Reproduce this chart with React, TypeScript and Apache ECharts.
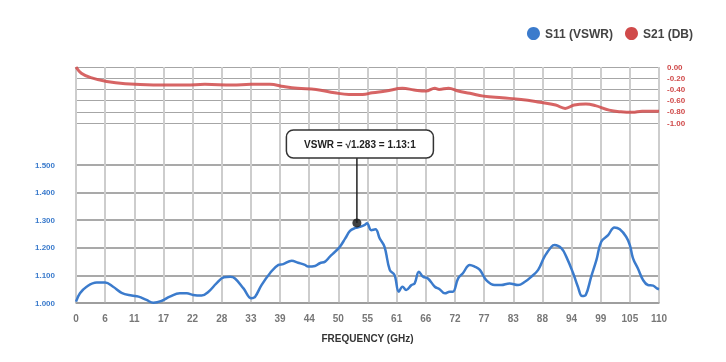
import React, { useEffect, useRef } from "react";
import * as echarts from "echarts";

const FREQ_MIN = 0;
const FREQ_MAX = 110;
const FREQ_STEP = 5.5;

const s11Freq = [0, 0.75, 2.0, 3.9, 5.5, 7.0, 8.6, 10.5, 11.8, 13.3, 14.6, 16.2, 17.7, 19.6, 20.9, 22.1, 23.7, 25.0, 26.5, 27.9, 29.1, 30.0, 31.6, 33.1, 33.8, 35.0, 36.6, 38.2, 39.1, 40.7, 41.9, 43.2, 43.8, 45.1, 46.0, 47.0, 47.9, 48.9, 49.8, 50.8, 51.7, 52.6, 53.6, 54.5, 54.9, 55.7, 56.5, 57.3, 58.2, 59.2, 60.1, 60.9, 61.6, 62.3, 63.3, 63.9, 64.7, 65.5, 66.4, 67.7, 68.6, 69.6, 70.5, 71.1, 72.1, 73.0, 74.3, 75.2, 76.2, 77.4, 79.0, 80.2, 81.8, 83.4, 84.7, 85.9, 87.2, 88.4, 89.7, 90.3, 91.6, 92.5, 93.8, 94.7, 95.5, 96.2, 97.2, 98.2, 99.1, 100.4, 101.6, 102.6, 103.8, 104.5, 105.1, 106.0, 107.0, 107.9, 108.9, 109.6, 110];
const s11Vswr = [1.005, 1.035, 1.059, 1.074, 1.074, 1.059, 1.037, 1.027, 1.023, 1.011, 1.001, 1.008, 1.023, 1.035, 1.035, 1.029, 1.027, 1.041, 1.071, 1.093, 1.095, 1.089, 1.053, 1.017, 1.023, 1.065, 1.108, 1.138, 1.141, 1.153, 1.146, 1.138, 1.132, 1.134, 1.144, 1.150, 1.168, 1.186, 1.204, 1.234, 1.261, 1.271, 1.276, 1.283, 1.289, 1.264, 1.267, 1.234, 1.204, 1.120, 1.101, 1.041, 1.059, 1.047, 1.065, 1.071, 1.113, 1.095, 1.089, 1.059, 1.050, 1.035, 1.041, 1.041, 1.089, 1.108, 1.138, 1.132, 1.120, 1.083, 1.065, 1.065, 1.071, 1.065, 1.077, 1.095, 1.120, 1.168, 1.204, 1.210, 1.198, 1.168, 1.108, 1.059, 1.025, 1.030, 1.095, 1.156, 1.222, 1.246, 1.274, 1.267, 1.240, 1.210, 1.162, 1.126, 1.083, 1.065, 1.063, 1.053, 1.050];

const s21Freq = [0, 1.0, 2.8, 5.8, 9.3, 14.6, 20.8, 24.3, 29.5, 33.0, 36.6, 39.2, 41.8, 45.3, 48.8, 51.5, 54.1, 55.9, 58.5, 61.6, 63.8, 66.0, 67.7, 68.5, 70.3, 72.1, 74.3, 76.9, 80.4, 84.0, 87.5, 90.5, 92.3, 94.0, 96.2, 98.0, 100.6, 102.8, 105.0, 106.8, 110];
const s21Db = [0.0, -0.11, -0.19, -0.26, -0.30, -0.32, -0.32, -0.31, -0.32, -0.31, -0.31, -0.35, -0.38, -0.40, -0.46, -0.49, -0.49, -0.46, -0.43, -0.38, -0.41, -0.43, -0.38, -0.40, -0.38, -0.43, -0.47, -0.52, -0.55, -0.58, -0.63, -0.68, -0.74, -0.68, -0.66, -0.69, -0.77, -0.80, -0.81, -0.79, -0.79];

const annotFreq = 53.0;
const annotVswr = 1.29;
const annotText = "VSWR = \u221A1.283 = 1.13:1";

const BLUE = "#3b7bcc";
const RED = "#d04a4a";
const FONT = "'Liberation Sans', Arial, sans-serif";

export default function App() {
  const ref = useRef<HTMLDivElement>(null);
  useEffect(() => {
    if (!ref.current) return;
    const chart = echarts.init(ref.current, null, { renderer: "svg" });
    const vSplit = { show: true, lineStyle: { color: "#cdcdcd", width: 2 } };
    const xBase = (show: boolean) => ({
      type: "value" as const,
      min: FREQ_MIN,
      max: FREQ_MAX,
      interval: FREQ_STEP,
      splitLine: vSplit,
      axisTick: { show: false },
    });
    const option: any = {
      animation: false,
      textStyle: { fontFamily: FONT },
      legend: {
        right: 28,
        top: 22,
        itemGap: 12,
        icon: "circle",
        itemWidth: 13,
        itemHeight: 13,
        data: ["S11 (VSWR)", "S21 (DB)"],
        textStyle: { color: "#444", fontWeight: "bold", fontSize: 12, fontFamily: FONT },
      },
      grid: [
        { left: 76, top: 67, width: 583, height: 56 },
        { left: 76, top: 123, width: 583, height: 42 },
        { left: 76, top: 165, width: 583, height: 138 },
      ],
      xAxis: [
        { ...xBase(false), gridIndex: 0, axisLabel: { show: false }, axisLine: { show: false } },
        { ...xBase(false), gridIndex: 1, axisLabel: { show: false }, axisLine: { show: false } },
        {
          ...xBase(true),
          gridIndex: 2,
          name: "FREQUENCY (GHz)",
          nameLocation: "middle",
          nameGap: 30,
          nameTextStyle: { color: "#333", fontWeight: "bold", fontSize: 10, fontFamily: FONT },
          axisLine: { show: true, lineStyle: { color: "#9a9a9a", width: 1.5 } },
          axisLabel: {
            color: "#777",
            fontSize: 10,
            fontWeight: "bold",
            margin: 10,
            formatter: (v: number) => String(Math.round(v)),
          },
        },
      ],
      yAxis: [
        {
          type: "value",
          gridIndex: 0,
          position: "right",
          min: -1,
          max: 0,
          interval: 0.2,
          axisLine: { show: false },
          axisTick: { show: false },
          splitLine: { show: true, lineStyle: { color: "#a6a6a6", width: 1.2 } },
          axisLabel: {
            color: RED,
            fontSize: 8,
            fontWeight: "bold",
            margin: 8,
            formatter: (v: number) => v.toFixed(2),
          },
        },
        { type: "value", gridIndex: 1, show: false, min: 0, max: 1, splitLine: { show: false } },
        {
          type: "value",
          gridIndex: 2,
          min: 1.0,
          max: 1.5,
          interval: 0.1,
          axisLine: { show: false },
          axisTick: { show: false },
          splitLine: { show: true, lineStyle: { color: "#8c8c8c", width: 1.6 } },
          axisLabel: {
            color: BLUE,
            fontSize: 8,
            fontWeight: "bold",
            margin: 21,
            formatter: (v: number) => v.toFixed(3),
          },
        },
      ],
      series: [
        {
          name: "S11 (VSWR)",
          type: "line",
          xAxisIndex: 2,
          yAxisIndex: 2,
          data: s11Freq.map((f, i) => [f, s11Vswr[i]]),
          showSymbol: false,
          smooth: 0.4,
          lineStyle: { color: BLUE, width: 2.5 },
          itemStyle: { color: BLUE },
          z: 3,
        },
        {
          name: "S21 (DB)",
          type: "line",
          xAxisIndex: 0,
          yAxisIndex: 0,
          data: s21Freq.map((f, i) => [f, s21Db[i]]),
          showSymbol: false,
          smooth: 0.4,
          lineStyle: { color: RED, width: 3, opacity: 0.85 },
          itemStyle: { color: RED },
          z: 3,
        },
        {
          name: "annot",
          type: "scatter",
          xAxisIndex: 2,
          yAxisIndex: 2,
          data: [[annotFreq, annotVswr]],
          symbolSize: 9,
          itemStyle: { color: "#111" },
          z: 5,
        },
      ],
    };
    chart.setOption(option);
    const p = chart.convertToPixel({ xAxisIndex: 2, yAxisIndex: 2 }, [annotFreq, annotVswr]) as number[];
    const boxW = 147;
    const boxH = 28;
    const boxTop = 130;
    chart.setOption({
      graphic: [
        {
          type: "line",
          shape: { x1: p[0], y1: boxTop + boxH, x2: p[0], y2: p[1] },
          style: { stroke: "#222", lineWidth: 1.5 },
          z: 10,
        },
        {
          type: "rect",
          shape: { x: p[0] - boxW / 2 + 3, y: boxTop, width: boxW, height: boxH, r: 7 },
          style: { fill: "#fff", stroke: "#333", lineWidth: 1.5 },
          z: 10,
        },
        {
          type: "text",
          x: p[0] + 3,
          y: boxTop + boxH / 2,
          style: {
            text: annotText,
            fill: "#222",
            font: "bold 10px " + FONT,
            align: "center",
            verticalAlign: "middle",
          },
          z: 11,
        },
      ],
    });
    return () => chart.dispose();
  }, []);
  return <div ref={ref} style={{ position: "fixed", left: 0, top: 0, width: 726, height: 362 }} />;
}
